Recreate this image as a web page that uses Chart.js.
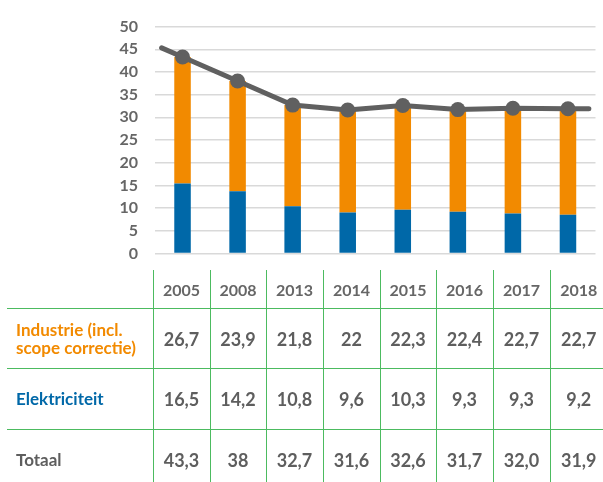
<!DOCTYPE html>
<html>
<head>
<meta charset="utf-8">
<script src="https://cdn.jsdelivr.net/npm/chart.js@4/dist/chart.umd.min.js"></script>
<style>
	body { margin: 0; width: 603px; height: 482px; overflow: hidden; background: #fff; position: relative; font-family: Lato, 'Open Sans', sans-serif; }
	#chartBox { position: absolute; left: 0; top: 0; width: 603px; height: 280px; }
	table { position: absolute; left: 7px; top: 270px; border-collapse: collapse; table-layout: fixed; width: 600px; }
	td { padding: 0; text-align: center; font-weight: bold; color: #5e5e5e; font-size: 18px; }
	td.yr { border-left: 1px solid #4cbb60; }
	tr.line td { border-bottom: 1px solid #4cbb60; }
	tr.head td { font-size: 16px; color: #666; height: 38px; }
	td.lbl { text-align: left; padding-left: 9px; font-size: 17px; line-height: 18px; }
</style>
</head>
<body>
<div id="chartBox"><canvas id="chart" width="603" height="280"></canvas></div>
<table id="tbl"></table>
<script>
	const years = ['2005', '2008', '2013', '2014', '2015', '2016', '2017', '2018'];
	// bar heights as drawn in the chart
	const barElektriciteit = [15.4, 13.7, 10.4, 9.0, 9.6, 9.2, 8.8, 8.5];
	const barIndustrie = [27.9, 24.3, 22.3, 22.6, 23.0, 22.5, 23.2, 23.4];
	const totaal = [43.3, 38, 32.7, 31.6, 32.6, 31.7, 32.0, 31.9];
	// table texts
	const industrieTxt = ['26,7', '23,9', '21,8', '22', '22,3', '22,4', '22,7', '22,7'];
	const elektriciteitTxt = ['16,5', '14,2', '10,8', '9,6', '10,3', '9,3', '9,3', '9,2'];
	const totaalTxt = ['43,3', '38', '32,7', '31,6', '32,6', '31,7', '32,0', '31,9'];
	const yTicks = [0, 5, 10, 15, 20, 25, 30, 35, 40, 45, 50];

	const BLUE = '#0068a8';
	const ORANGE = '#f28a00';
	const GREY = '#606060';

	// extend the total line a bit past the first and last point
	const lineTails = {
		id: 'lineTails',
		afterDatasetsDraw(chart) {
			const pts = chart.getDatasetMeta(2).data;
			if (pts.length < 2) return;
			const ctx = chart.ctx;
			const ext = (pts[1].x - pts[0].x) * 0.38;
			const n = pts.length;
			const sL = (pts[1].y - pts[0].y) / (pts[1].x - pts[0].x);
			const sR = (pts[n - 1].y - pts[n - 2].y) / (pts[n - 1].x - pts[n - 2].x);
			ctx.save();
			ctx.strokeStyle = GREY;
			ctx.lineWidth = 5;
			ctx.lineCap = 'round';
			ctx.beginPath();
			ctx.moveTo(pts[0].x - ext, pts[0].y - sL * ext);
			ctx.lineTo(pts[0].x, pts[0].y);
			ctx.moveTo(pts[n - 1].x, pts[n - 1].y);
			ctx.lineTo(pts[n - 1].x + ext, pts[n - 1].y + sR * ext);
			ctx.stroke();
			ctx.restore();
		}
	};

	new Chart(document.getElementById('chart'), {
		type: 'bar',
		plugins: [lineTails],
		data: {
			labels: years,
			datasets: [{
				label: 'Elektriciteit',
				data: barElektriciteit,
				backgroundColor: BLUE,
				stack: 'bars',
				order: 1,
				barPercentage: 0.3,
				categoryPercentage: 1
			}, {
				label: 'Industrie (incl. scope correctie)',
				data: barIndustrie,
				backgroundColor: ORANGE,
				stack: 'bars',
				order: 2,
				barPercentage: 0.3,
				categoryPercentage: 1
			}, {
				type: 'line',
				label: 'Totaal',
				data: totaal,
				stack: 'total',
				order: 0,
				borderColor: GREY,
				borderWidth: 5,
				backgroundColor: GREY,
				pointRadius: 7.5,
				pointBackgroundColor: GREY,
				pointBorderWidth: 0,
				tension: 0,
				fill: false
			}]
		},
		options: {
			responsive: false,
			animation: false,
			layout: { padding: { top: 19.4, bottom: 9, left: 0, right: 0 } },
			plugins: { legend: { display: false }, tooltip: { enabled: false } },
			scales: {
				x: { display: false, stacked: true },
				y: {
					stacked: true,
					min: 0,
					max: 50,
					afterBuildTicks(scale) { scale.ticks = yTicks.map(v => ({ value: v })); },
					afterFit(scale) { scale.width = 155; },
					border: { display: false },
					grid: { color: '#d9d9d9', lineWidth: 1.5, drawTicks: false },
					ticks: {
						padding: 17,
						color: '#666',
						font: { family: 'Lato', size: 16, weight: 'bold' }
					}
				}
			}
		}
	});

	// data table under the chart
	const tbl = document.getElementById('tbl');
	let html = '<colgroup><col style="width:146px">' +
		'<col style="width:57px"><col style="width:56px"><col style="width:57px"><col style="width:57px">' +
		'<col style="width:56px"><col style="width:57px"><col style="width:57px"><col style="width:57px"></colgroup>';
	html += '<tr class="head line"><td></td>' + years.map(y => '<td class="yr">' + y + '</td>').join('') + '</tr>';
	html += '<tr class="line" style="height:60px"><td class="lbl" style="color:' + ORANGE + '">Industrie (incl.<br>scope correctie)</td>' +
		industrieTxt.map(v => '<td class="yr">' + v + '</td>').join('') + '</tr>';
	html += '<tr class="line" style="height:61px"><td class="lbl" style="color:' + BLUE + '">Elektriciteit</td>' +
		elektriciteitTxt.map(v => '<td class="yr">' + v + '</td>').join('') + '</tr>';
	html += '<tr style="height:60px"><td class="lbl" style="color:#5e5e5e">Totaal</td>' +
		totaalTxt.map(v => '<td class="yr">' + v + '</td>').join('') + '</tr>';
	tbl.innerHTML = html;
</script>
</body>
</html>
